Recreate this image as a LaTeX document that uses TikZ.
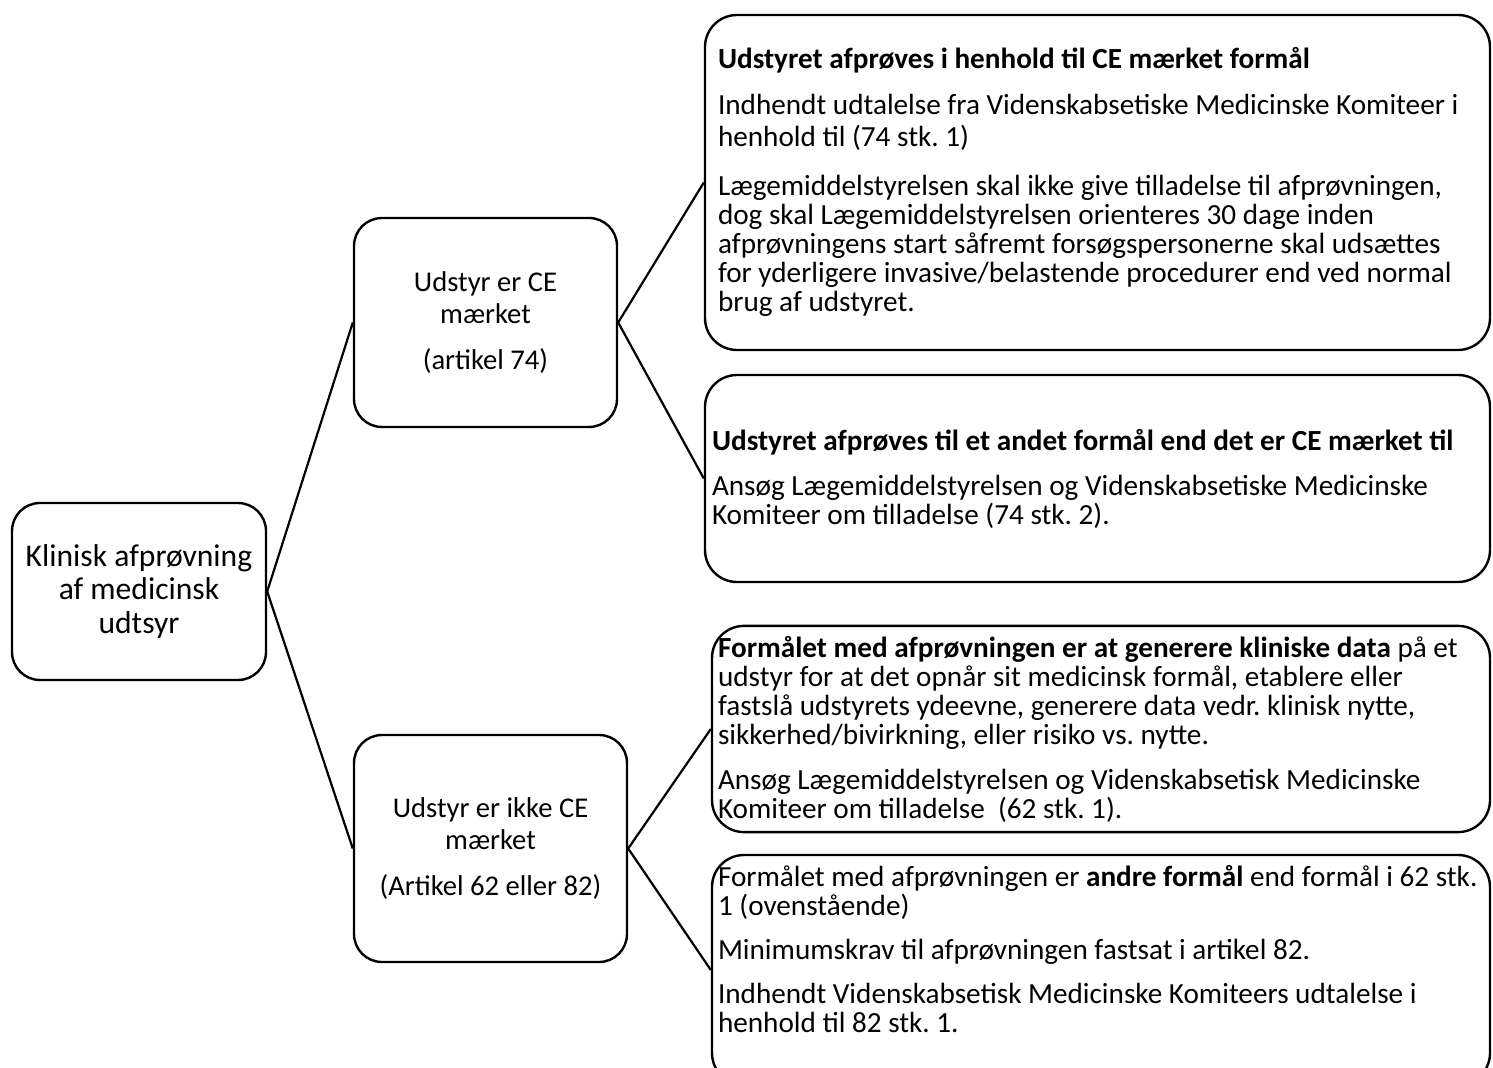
\documentclass[tikz,border=0pt]{standalone}
\usepackage{fontspec}
\setmainfont{Carlito}
\usetikzlibrary{positioning}
\frenchspacing

\begin{document}
\begin{tikzpicture}[x=0.5pt,y=-0.5pt,line width=1.1pt]
        \tikzstyle{box}=[rectangle,draw=black,line width=1.2pt,rounded corners=14pt,inner ysep=2pt,inner xsep=2pt]
        \tikzstyle{main}=[box,align=flush center,text width=120pt,font=\fontsize{15.8}{16.8}\selectfont]
        \tikzstyle{sub}=[box,align=flush center,text width=126pt,font=\fontsize{14.3}{15.9}\selectfont]
        \tikzstyle{info}=[box,align=flush left,rounded corners=16pt,font=\fontsize{14.6}{14.5}\selectfont]

        \useasboundingbox (0,0) rectangle (1493,1068);

        \node [main, minimum width=127pt, minimum height=88.5pt] (klinisk) at (139,591.5) {Klinisk afprøvning\\af medicinsk\\udtsyr}; %root
        \node [sub, minimum width=131.5pt, minimum height=104.5pt] (ce) at (485.5,322.5) {Udstyr er CE\\mærket\\[7pt](artikel 74)};
        \node [sub, minimum width=136.5pt, minimum height=113.5pt] (ikkece) at (490.5,848.5) {Udstyr er ikke CE\\mærket\\[7pt](Artikel 62 eller 82)};

        \node [info, minimum width=392.5pt, minimum height=167.5pt, inner xsep=6.5pt, text width=379.5pt] (ceformaal) at (1097.5,182.5)
            {\textbf{Udstyret afprøves i henhold til CE mærket formål}\\[8.5pt]
             Indhendt udtalelse fra Videnskabsetiske Medicinske Komiteer i\\[1.5pt]
             henhold til (74 stk. 1)\\[10pt]
             Lægemiddelstyrelsen skal ikke give tilladelse til afprøvningen,\\
             dog skal Lægemiddelstyrelsen orienteres 30 dage inden\\
             afprøvningens start såfremt forsøgspersonerne skal udsættes\\
             for yderligere invasive/belastende procedurer end ved normal\\
             brug af udstyret.\rule[-3pt]{0pt}{1pt}};
        \node [info, minimum width=392.5pt, minimum height=103.5pt, inner xsep=3.5pt, text width=385.5pt] (andetformaal) at (1097.5,478.5)
            {\textbf{Udstyret afprøves til et andet formål end det er CE mærket til}\\[8pt]
             Ansøg Lægemiddelstyrelsen og Videnskabsetiske Medicinske\\
             Komiteer om tilladelse (74 stk. 2).};

        \node [info, minimum width=389pt, inner xsep=1.5pt, inner ysep=5pt, text width=386pt] (kliniskdata) at (1101,729)
            {\hspace*{1.5pt}\textbf{Formålet med afprøvningen er at generere kliniske data} på et\\
             \hspace*{1.5pt}udstyr for at det opnår sit medicinsk formål, etablere eller\\
             \hspace*{1.5pt}fastslå udstyrets ydeevne, generere data vedr. klinisk nytte,\\
             \hspace*{1.5pt}sikkerhed/bivirkning, eller risiko vs. nytte.\\[8pt]
             \hspace*{1.5pt}Ansøg Lægemiddelstyrelsen og Videnskabsetisk Medicinske\\
             \hspace*{1.5pt}Komiteer om tilladelse\ \ (62 stk. 1).};
        \node [info, minimum width=389pt, minimum height=115pt, inner xsep=1.5pt, text width=386pt] (andreformaal) at (1101,970)
            {\hspace*{1.5pt}Formålet med afprøvningen er \textbf{andre formål} end formål i 62 stk.\\
             \hspace*{1.5pt}1 (ovenstående)\\[7.5pt]
             \hspace*{1.5pt}Minimumskrav til afprøvningen fastsat i artikel 82.\\[7.5pt]
             \hspace*{1.5pt}Indhendt Videnskabsetisk Medicinske Komiteers udtalelse i\\
             \hspace*{1.5pt}henhold til 82 stk. 1.\rule[-21pt]{0pt}{1pt}};

        \draw (klinisk.east) edge (ce.west) edge (ikkece.west);
        \draw (ce.east) edge (ceformaal.west) edge (andetformaal.west);
        \draw (ikkece.east) edge (kliniskdata.west) edge (andreformaal.west);
\end{tikzpicture}
\end{document}
